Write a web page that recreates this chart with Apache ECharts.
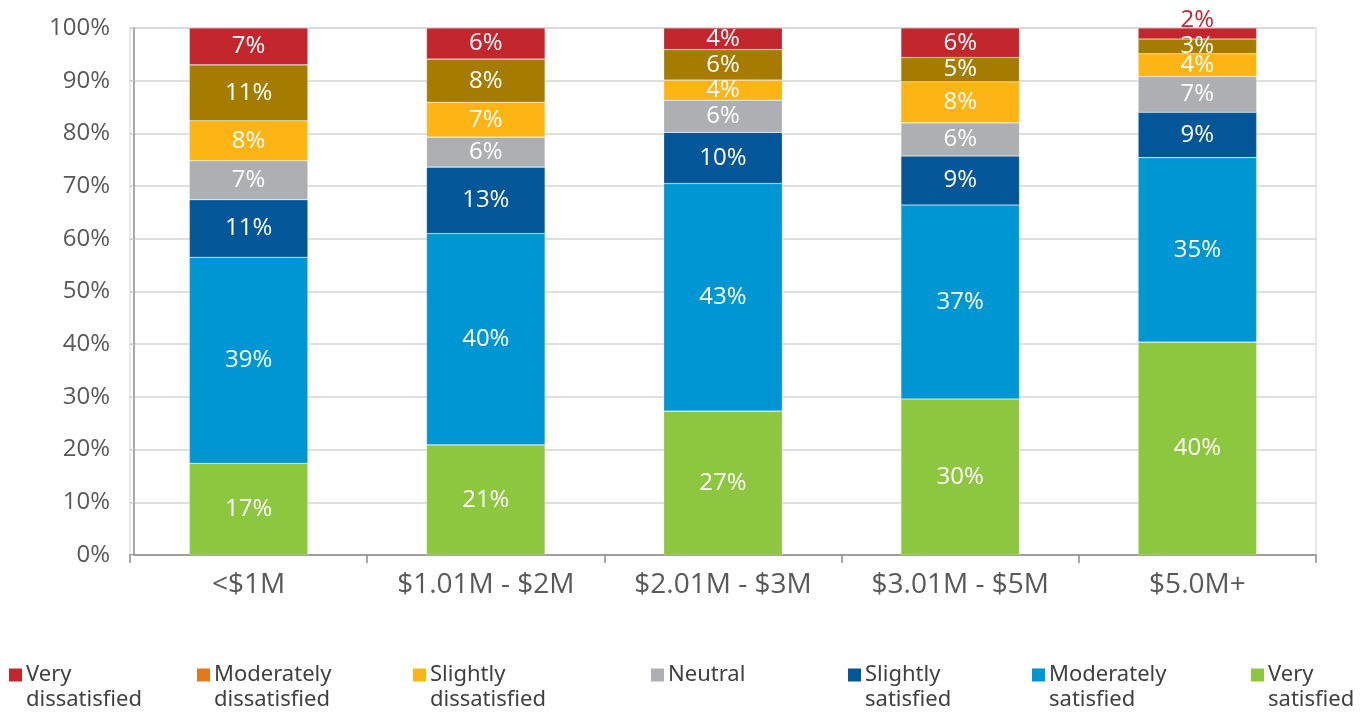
<!DOCTYPE html>
<html>
<head>
<meta charset="utf-8">
<script src="https://cdn.jsdelivr.net/npm/echarts@6/dist/echarts.min.js"></script>
<style>
  html, body { margin: 0; padding: 0; background: #ffffff; }
  #chart { width: 1369px; height: 715px; }
</style>
</head>
<body>
<div id="chart"></div>
<script>
// Revenue bands on the x axis
const categories = ['<$1M', '$1.01M - $2M', '$2.01M - $3M', '$3.01M - $5M', '$5.0M+'];

// Share of respondents (%) per satisfaction level, stacked bottom to top
const verySatisfied          = [17.4, 20.9, 27.3, 29.6, 40.4];
const moderatelySatisfied    = [39.1, 40.1, 43.2, 36.8, 35.0];
const slightlySatisfied      = [10.9, 12.6,  9.7,  9.3,  8.6];
const neutral                = [ 7.4,  5.7,  6.1,  6.3,  6.8];
const slightlyDissatisfied   = [ 7.6,  6.6,  3.8,  7.8,  4.3];
const moderatelyDissatisfied = [10.6,  8.2,  5.8,  4.6,  2.8];
const veryDissatisfied       = [ 7.0,  5.9,  4.1,  5.6,  2.1];

const yTicks = [0, 10, 20, 30, 40, 50, 60, 70, 80, 90, 100];

const FONT = 'Open Sans';
const LEGEND_FONT = 'Noto Sans';
const LEGEND_LINE = 25;

const seriesDefs = [
  { name: 'Very\nsatisfied',          data: verySatisfied,          color: '#8dc63f' },
  { name: 'Moderately\nsatisfied',    data: moderatelySatisfied,    color: '#0096d4' },
  { name: 'Slightly\nsatisfied',      data: slightlySatisfied,      color: '#035697' },
  { name: 'Neutral',                  data: neutral,                color: '#aeafb2' },
  { name: 'Slightly\ndissatisfied',   data: slightlyDissatisfied,   color: '#fdb515' },
  { name: 'Moderately\ndissatisfied', data: moderatelyDissatisfied, color: '#a67c00', legendColor: '#e07a1c' },
  { name: 'Very\ndissatisfied',       data: veryDissatisfied,       color: '#c4262e' }
];

const series = seriesDefs.map(function (d, si) {
  return {
    name: d.name,
    type: 'bar',
    stack: 'total',
    barWidth: '50%',
    itemStyle: { color: d.color, borderColor: 'rgba(255,255,255,0.35)', borderWidth: 0.6 },
    label: {
      show: true,
      position: 'inside',
      color: '#ffffff',
      fontFamily: FONT,
      fontSize: 24,
      formatter: function (p) { return Math.round(p.value) + '%'; }
    },
    data: d.data.map(function (v, i) {
      // thin top slice in the last column: label sits above the bar in its own colour
      if (si === seriesDefs.length - 1 && v < 3) {
        return { value: v, label: { color: d.color, offset: [0, -13] } };
      }
      return v;
    })
  };
});

// One legend block per item so the entries can be spread across the bottom.
// For two-line entries the square is drawn at the top of a taller icon box,
// so it lines up with the first text line.
const legendLeft = [1251, 1032, 848, 651, 413, 197, 9];
const ICON_Y = 675;
const SQ = 13;
const tallIcon = 'path://M0,0L' + SQ + ',0L' + SQ + ',' + SQ + 'L0,' + SQ + 'Z' +
                 'M0,' + (SQ + LEGEND_LINE) + 'L0.01,' + (SQ + LEGEND_LINE);
const legends = seriesDefs.map(function (d, i) {
  const lines = d.name.split('\n').length;
  const iconH = lines > 1 ? SQ + LEGEND_LINE : SQ;
  return {
    left: legendLeft[i],
    top: ICON_Y - LEGEND_LINE / 2,
    orient: 'horizontal',
    itemWidth: SQ,
    itemHeight: iconH,
    itemGap: 0,
    icon: lines > 1 ? tallIcon : 'rect',
    selectedMode: false,
    padding: 0,
    textStyle: {
      fontFamily: LEGEND_FONT,
      fontSize: 22,
      color: '#404040',
      lineHeight: LEGEND_LINE,
      padding: [0, 0, 0, -1]
    },
    data: [{ name: d.name, itemStyle: { color: d.legendColor || d.color, borderWidth: 0 } }]
  };
});

const chart = echarts.init(document.getElementById('chart'), null, { renderer: 'canvas' });
chart.setOption({
  animation: false,
  backgroundColor: '#ffffff',
  grid: {
    left: 130, right: 53, top: 28, bottom: 160,
    show: true, borderColor: '#d4d4d4', borderWidth: 1
  },
  legend: legends,
  xAxis: {
    type: 'category',
    data: categories,
    axisLine: { lineStyle: { color: '#8c8c8c', width: 1.5 } },
    axisTick: { show: true, length: 8, alignWithLabel: false, lineStyle: { color: '#8c8c8c', width: 1.5 } },
    axisLabel: { color: '#595959', fontFamily: FONT, fontSize: 28, margin: 16 }
  },
  yAxis: {
    type: 'value',
    min: yTicks[0],
    max: yTicks[yTicks.length - 1],
    interval: yTicks[1] - yTicks[0],
    offset: -4,
    axisLine: { show: true, lineStyle: { color: '#8c8c8c', width: 1.5 } },
    axisTick: { show: true, length: 5, lineStyle: { color: '#d0d0d0' } },
    splitLine: { lineStyle: { color: '#d4d4d4', width: 1.5 } },
    axisLabel: {
      color: '#595959', fontFamily: FONT, fontSize: 24, margin: 24,
      formatter: function (v) { return v + '%'; }
    }
  },
  series: series
});
</script>
</body>
</html>
